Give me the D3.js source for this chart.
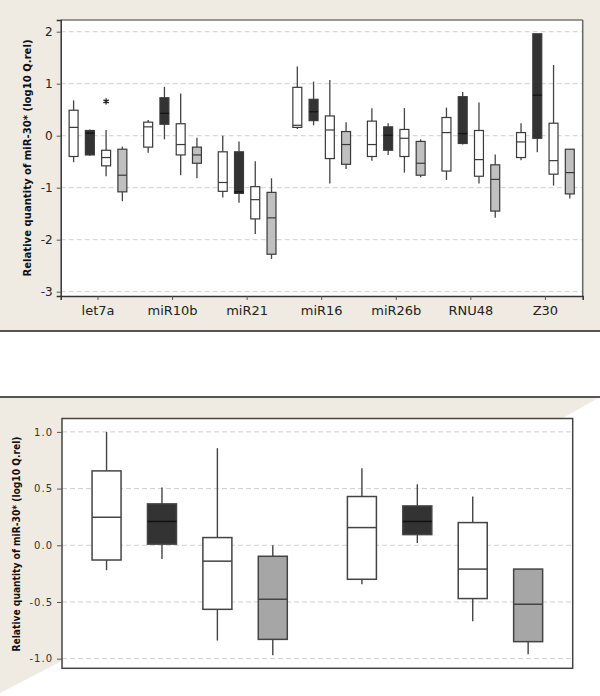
<!DOCTYPE html>
<html>
<head>
<meta charset="utf-8">
<script src="https://cdn.jsdelivr.net/npm/d3@7"></script>
<style>
  html, body { margin: 0; padding: 0; background: #ffffff; }
  svg { display: block; }
  text { font-family: "DejaVu Sans", Verdana, sans-serif; }
</style>
</head>
<body>
<script>
// ---------------- DATA ----------------
// Five-number summaries: [min, q1, median, q3, max]
const topCategories = ["let7a", "miR10b", "miR21", "miR16", "miR26b", "RNU48", "Z30"];
const topTicks = [-3, -2, -1, 0, 1, 2];

const topSeries1 = [ // white
  [-0.51, -0.40, 0.16, 0.49, 0.68],
  [-0.33, -0.22, 0.17, 0.26, 0.30],
  [-1.19, -1.07, -0.90, -0.31, 0.00],
  [0.13, 0.16, 0.20, 0.93, 1.33],
  [-0.48, -0.40, -0.17, 0.28, 0.53],
  [-0.85, -0.68, 0.06, 0.35, 0.54],
  [-0.47, -0.42, -0.12, 0.06, 0.24]
];
const topSeries2 = [ // dark
  [-0.385, -0.37, 0.05, 0.10, 0.12],
  [-0.07, 0.22, 0.43, 0.73, 0.94],
  [-1.29, -1.11, -1.08, -0.31, -0.11],
  [0.20, 0.29, 0.46, 0.70, 1.04],
  [-0.37, -0.28, 0.01, 0.17, 0.24],
  [-0.17, -0.15, 0.04, 0.75, 0.84],
  [-0.32, -0.05, 0.78, 1.96, 1.96]
];
const topSeries3 = [ // white
  [-0.78, -0.58, -0.42, -0.28, 0.11],
  [-0.76, -0.37, -0.17, 0.23, 0.81],
  [-1.89, -1.60, -1.23, -0.98, -0.49],
  [-0.92, -0.44, 0.11, 0.38, 1.07],
  [-0.71, -0.40, -0.05, 0.12, 0.53],
  [-0.92, -0.78, -0.46, 0.10, 0.64],
  [-0.96, -0.74, -0.48, 0.24, 1.36]
];
const topSeries4 = [ // grey
  [-1.26, -1.08, -0.76, -0.26, -0.21],
  [-0.82, -0.53, -0.37, -0.22, -0.04],
  [-2.37, -2.28, -1.58, -1.09, -0.82],
  [-0.64, -0.55, -0.17, 0.08, 0.26],
  [-0.80, -0.76, -0.53, -0.11, -0.07],
  [-1.58, -1.45, -0.84, -0.56, -0.36],
  [-1.21, -1.12, -0.71, -0.26, -0.26]
];
// outliers: category, series index, value
const topOutlierCategory = ["let7a"];
const topOutlierSeries = [2];
const topOutlierValue = [0.66];

const bottomGroups = ["group 1", "group 2"];
const bottomTicks = [-1.0, -0.5, 0.0, 0.5, 1.0];
const bottomSeries1 = [[-0.22, -0.13, 0.247, 0.656, 1.00], [-0.344, -0.30, 0.156, 0.43, 0.68]];
const bottomSeries2 = [[-0.12, 0.01, 0.21, 0.365, 0.51], [0.02, 0.094, 0.21, 0.347, 0.538]];
const bottomSeries3 = [[-0.84, -0.565, -0.14, 0.068, 0.856], [-0.67, -0.47, -0.21, 0.20, 0.43]];
const bottomSeries4 = [[-0.97, -0.83, -0.476, -0.097, 0.00], [-0.96, -0.85, -0.52, -0.21, -0.21]];

const yTitle = "Relative quantity of miR-30* (log10 Q.rel)";

// ---------------- STYLE ----------------
const W = 600, H = 696;
const beige = "#efebe2";
const topFills = ["#ffffff", "#333333", "#ffffff", "#c0c0c0"];
const bottomFills = ["#ffffff", "#333333", "#ffffff", "#a6a6a6"];
const seriesIdx = [0, 1, 2, 3];

const svg = d3.select("body").append("svg").attr("width", W).attr("height", H);
svg.append("rect").attr("width", W).attr("height", H).attr("fill", "#fff");

// ---------- backgrounds ----------
svg.append("rect").attr("x", 0).attr("y", 0).attr("width", W).attr("height", 330).attr("fill", beige);
svg.append("line").attr("x1", 0).attr("x2", W).attr("y1", 331).attr("y2", 331)
  .attr("stroke", "#555").attr("stroke-width", 2);

svg.append("polygon")
  .attr("points", [[0, 397], [600, 397], [562, 418.5], [62, 418.5], [62, 661], [0, 693]].map(p => p.join(",")).join(" "))
  .attr("fill", beige);
svg.append("line").attr("x1", 0).attr("x2", W).attr("y1", 397).attr("y2", 397)
  .attr("stroke", "#555").attr("stroke-width", 2);

// ---------- generic box drawer ----------
function drawBoxes(g, seriesList, fills, x, y, bw, offFrac, boxFrac, opts) {
  const sub = d3.scalePoint().domain(seriesIdx).range([-offFrac * bw, offFrac * bw]);
  const boxW = boxFrac * bw;
  seriesList.forEach((series, si) => {
    series.forEach((s, ci) => {
      const cx = x(x.domain()[ci]) + bw / 2 + sub(si);
      const [mn, q1, md, q3, mx] = s;
      const bg = g.append("g");
      bg.append("line").attr("x1", cx).attr("x2", cx).attr("y1", y(mx)).attr("y2", y(q3))
        .attr("stroke", opts.whisker).attr("stroke-width", opts.ww);
      bg.append("line").attr("x1", cx).attr("x2", cx).attr("y1", y(q1)).attr("y2", y(mn))
        .attr("stroke", opts.whisker).attr("stroke-width", opts.ww);
      bg.append("rect").attr("x", cx - boxW / 2).attr("y", y(q3))
        .attr("width", boxW).attr("height", Math.max(0.5, y(q1) - y(q3)))
        .attr("fill", fills[si]).attr("stroke", opts.stroke).attr("stroke-width", opts.sw);
      bg.append("line").attr("x1", cx - boxW / 2).attr("x2", cx + boxW / 2)
        .attr("y1", y(md)).attr("y2", y(md))
        .attr("stroke", si === 1 ? "#111" : opts.stroke).attr("stroke-width", opts.sw);
    });
  });
  return sub;
}

// ================= TOP CHART =================
{
  const L = 60.7, R = 582.7, T = 20, B = 296;
  const y = d3.scaleLinear().domain([-3.083, 2.225]).range([B, T]);
  const x = d3.scaleBand().domain(topCategories).range([L, R]).padding(0);
  const bw = x.bandwidth();
  const g = svg.append("g");

  g.append("rect").attr("x", L).attr("y", T).attr("width", R - L).attr("height", B - T).attr("fill", "#fff");

  // grid
  g.append("g").selectAll("line").data(topTicks).join("line")
    .attr("x1", L).attr("x2", R).attr("y1", d => y(d)).attr("y2", d => y(d))
    .attr("stroke", "#cfcfcf").attr("stroke-width", 1).attr("stroke-dasharray", "5,3");

  const sub = drawBoxes(g, [topSeries1, topSeries2, topSeries3, topSeries4], topFills, x, y, bw, 0.327, 0.12,
    { stroke: "#3a3a3a", sw: 1.2, whisker: "#444", ww: 1.3 });

  // outliers
  topOutlierValue.forEach((v, i) => {
    const cx = x(topOutlierCategory[i]) + bw / 2 + sub(topOutlierSeries[i]);
    g.append("path").attr("d", d3.symbol(d3.symbolAsterisk, 26)())
      .attr("transform", `translate(${cx},${y(v)})`)
      .attr("fill", "none").attr("stroke", "#222").attr("stroke-width", 1.3);
  });

  // frame
  g.append("line").attr("x1", L).attr("x2", R).attr("y1", T).attr("y2", T).attr("stroke", "#777").attr("stroke-width", 1.5);
  g.append("line").attr("x1", R).attr("x2", R).attr("y1", T).attr("y2", B).attr("stroke", "#666").attr("stroke-width", 1.5);

  // axes
  const ya = g.append("g").attr("transform", `translate(${L},0)`)
    .call(d3.axisLeft(y).tickValues(topTicks).tickFormat(d => String(d).replace("\u2212", "-")).tickSize(4).tickPadding(4));
  ya.select(".domain").attr("stroke", "#333").attr("stroke-width", 1.5);
  ya.selectAll(".tick line").attr("stroke", "#555");
  ya.selectAll(".tick text").attr("font-size", 12).attr("fill", "#222")
    .attr("font-family", "DejaVu Sans, Verdana, sans-serif");

  const xa = g.append("g").attr("transform", `translate(0,${B})`)
    .call(d3.axisBottom(x).tickSize(4).tickPadding(6));
  xa.select(".domain").attr("stroke", "#333").attr("stroke-width", 1.5);
  xa.selectAll(".tick line").attr("stroke", "#555");
  xa.selectAll(".tick text").attr("font-size", 13).attr("fill", "#222")
    .attr("font-family", "DejaVu Sans, Verdana, sans-serif");

  g.append("text").attr("transform", `translate(30.5,158) rotate(-90)`)
    .attr("text-anchor", "middle").attr("font-size", 11).attr("font-weight", "bold").attr("fill", "#111")
    .attr("textLength", 237).attr("lengthAdjust", "spacingAndGlyphs")
    .text(yTitle);
}

// ================= BOTTOM CHART =================
{
  const L = 62, R = 572.7, T = 418.5, B = 668.3;
  const y = d3.scaleLinear().domain([-1.085, 1.118]).range([B, T]);
  const x = d3.scaleBand().domain(bottomGroups).range([L, R]).padding(0);
  const bw = x.bandwidth();
  const g = svg.append("g");

  g.append("rect").attr("x", L).attr("y", T).attr("width", R - L).attr("height", B - T).attr("fill", "#fff");

  g.append("g").selectAll("line").data(bottomTicks).join("line")
    .attr("x1", L).attr("x2", R).attr("y1", d => y(d)).attr("y2", d => y(d))
    .attr("stroke", "#cfcfcf").attr("stroke-width", 1).attr("stroke-dasharray", "5,3");

  drawBoxes(g, [bottomSeries1, bottomSeries2, bottomSeries3, bottomSeries4], bottomFills, x, y, bw, 0.3255, 0.1136,
    { stroke: "#444", sw: 1.5, whisker: "#444", ww: 1.4 });

  g.append("rect").attr("x", L).attr("y", T).attr("width", R - L).attr("height", B - T)
    .attr("fill", "none").attr("stroke", "#444").attr("stroke-width", 1.5);

  const ya = g.append("g").attr("transform", `translate(${L},0)`)
    .call(d3.axisLeft(y).tickValues(bottomTicks).tickFormat(d => d.toFixed(1)).tickSize(5).tickPadding(4));
  ya.select(".domain").remove();
  ya.selectAll(".tick line").attr("stroke", "#555");
  ya.selectAll(".tick text").attr("font-size", 10).attr("fill", "#333").attr("letter-spacing", 1)
    .attr("font-family", "DejaVu Sans, Verdana, sans-serif");

  g.append("text").attr("transform", `translate(19.5,544) rotate(-90)`)
    .attr("text-anchor", "middle").attr("font-size", 10).attr("font-weight", "bold").attr("fill", "#111")
    .attr("textLength", 215).attr("lengthAdjust", "spacingAndGlyphs")
    .text(yTitle);
}
</script>
</body>
</html>
